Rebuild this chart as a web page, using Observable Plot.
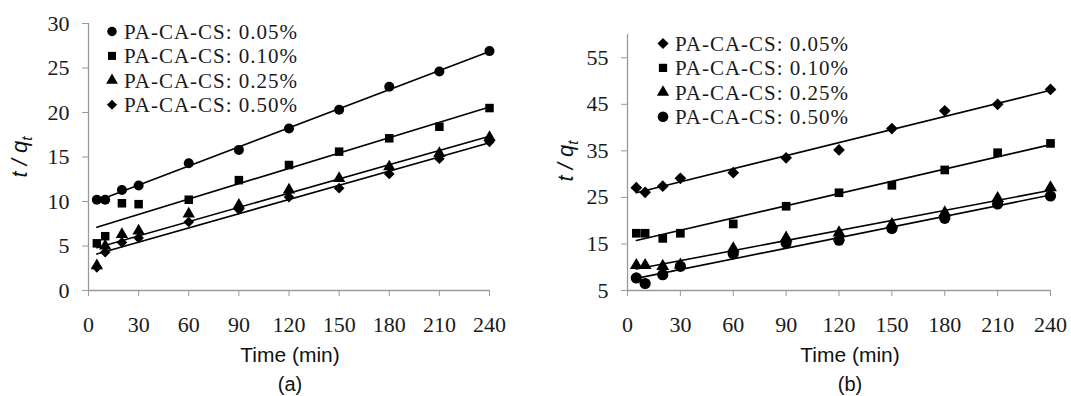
<!DOCTYPE html>
<html>
<head>
<meta charset="utf-8">
<script src="https://cdn.jsdelivr.net/npm/d3@7"></script>
<script src="https://cdn.jsdelivr.net/npm/@observablehq/plot@0.6"></script>
<style>
  html, body { margin: 0; padding: 0; background: #fff; }
  #wrap { position: relative; width: 1071px; height: 396px; overflow: hidden; }
  #pa, #pb { position: absolute; top: 0; }
  #pa { left: 0; }
  #pb { left: 540px; }
  svg text.tick { font-family: 'Liberation Serif', 'Times New Roman', serif !important; font-size: 22px !important; }
</style>
</head>
<body>
<div id="wrap"><div id="pa"></div><div id="pb"></div></div>
<script>
// ---- data ----
const times = [5, 10, 20, 30, 60, 90, 120, 150, 180, 210, 240];
const seriesNames = ["PA-CA-CS: 0.05%", "PA-CA-CS: 0.10%", "PA-CA-CS: 0.25%", "PA-CA-CS: 0.50%"];
const xTicks = [0, 30, 60, 90, 120, 150, 180, 210, 240];
const yTicksA = [0, 5, 10, 15, 20, 25, 30];
const yTicksB = [5, 15, 25, 35, 45, 55];
// panel (a)
const a005 = [10.2, 10.2, 11.3, 11.8, 14.3, 15.8, 18.2, 20.3, 22.9, 24.6, 26.9];
const a010 = [5.3, 6.1, 9.8, 9.7, 10.2, 12.4, 14.1, 15.6, 17.1, 18.4, 20.5];
const a025 = [2.8, 5.0, 6.3, 6.7, 8.6, 9.6, 11.3, 12.6, 13.9, 15.4, 17.2];
const a050 = [2.6, 4.3, 5.4, 5.9, 7.7, 9.1, 10.5, 11.5, 13.1, 14.8, 16.7];
// panel (b)
const b005 = [27.1, 26.1, 27.4, 29.1, 30.3, 33.5, 35.2, 39.8, 43.6, 45.0, 48.2];
const b010 = [17.3, 17.3, 16.2, 17.3, 19.3, 23.1, 26.0, 27.6, 30.9, 34.6, 36.6];
const b025 = [10.4, 10.4, 10.2, 10.5, 14.0, 16.3, 17.4, 19.2, 21.7, 24.8, 27.1];
const b050 = [7.7, 6.5, 8.4, 10.2, 12.9, 15.2, 15.8, 18.3, 20.5, 23.6, 25.3];

const symbolsA = ["circle", "square", "triangle", "diamond2"];
const symbolsB = ["diamond2", "square", "triangle", "circle"];

function rowsOf(seriesArrays) {
  const rows = [];
  seriesArrays.forEach((vals, i) => vals.forEach((v, j) => rows.push({t: times[j], v, s: seriesNames[i]})));
  return rows;
}

const serif = "'Liberation Serif', 'Times New Roman', serif";
const sans = "'Liberation Sans', Arial, sans-serif";
const d3Sym = {circle: d3.symbolCircle, square: d3.symbolSquare, triangle: d3.symbolTriangle, diamond2: d3.symbolDiamond2};

function panel(cfg) {
  const rows = rowsOf(cfg.series);
  const symR = cfg.symR;
  const axisStroke = "#9a9a9a";
  const marks = [
    Plot.ruleX([0], {stroke: axisStroke, strokeWidth: 1.3}),
    Plot.ruleY([cfg.yDomain[0]], {stroke: axisStroke, strokeWidth: 1.3}),
    Plot.axisX({ticks: xTicks, tickSize: 6, tickPadding: 20, stroke: axisStroke, fill: "#1a1a1a", label: null}),
    Plot.axisY({ticks: cfg.yTicks, tickSize: 6, tickPadding: 13, stroke: axisStroke, fill: "#1a1a1a", label: null}),
    Plot.linearRegressionY(rows, {x: "t", y: "v", z: "s", ci: 0, stroke: "black", strokeWidth: 1.6})
  ];
  seriesNames.forEach((name, i) => {
    const sym = cfg.symbols[i];
    marks.push(Plot.dot(rows, {filter: d => d.s === name, x: "t", y: "v", symbol: sym, r: symR[sym], fill: "black", stroke: "none"}));
  });
  const svg = Plot.plot({
    width: cfg.width, height: 396,
    marginLeft: cfg.marginLeft, marginRight: cfg.marginRight, marginTop: cfg.marginTop, marginBottom: 106,
    x: {domain: [0, 240]},
    y: {domain: cfg.yDomain},
    style: {background: "transparent", color: "#1a1a1a"},
    marks
  });
  d3.select(svg).selectAll("text").classed("tick", true)
    .attr("font-family", serif).attr("font-size", 22)
    .style("font-family", serif).style("font-size", "22px");
  const g = d3.select(svg).append("g").attr("text-anchor", "start");
  // legend
  seriesNames.forEach((name, i) => {
    const cy = cfg.legendY + i * 24.4;
    const sym = cfg.symbols[i];
    const area = Math.PI * Math.pow(symR[sym] * 0.95, 2);
    g.append("path").attr("d", d3.symbol(d3Sym[sym], area)()).attr("transform", `translate(${cfg.legendX},${cy})`).attr("fill", "black");
    g.append("text").attr("x", cfg.legendX + 12).attr("y", cy + 7.5).attr("text-anchor", "start")
      .style("font-family", serif).style("font-size", "21px").attr("letter-spacing", 1)
      .attr("fill", "#1a1a1a").text(name);
  });
  // y label
  const yl = g.append("text").attr("transform", `translate(${cfg.yLabelX},${cfg.yLabelY}) rotate(-90)`)
    .attr("text-anchor", "middle").style("font-family", sans)
    .attr("font-style", "italic").style("font-size", "22px").attr("fill", "#111");
  yl.append("tspan").text("t / q");
  yl.append("tspan").attr("dy", 5).style("font-size", "15px").text("t");
  // x label and panel letter
  g.append("text").attr("x", cfg.xLabelX).attr("y", 362).attr("text-anchor", "middle")
    .style("font-family", sans).style("font-size", "21px").attr("fill", "#111").text("Time (min)");
  g.append("text").attr("x", cfg.xLabelX).attr("y", 391).attr("text-anchor", "middle")
    .style("font-family", sans).style("font-size", "20px").attr("fill", "#111").text(cfg.letter);
  return svg;
}

document.getElementById("pa").appendChild(panel({
  series: [a005, a010, a025, a050], symbols: symbolsA,
  symR: {circle: 5.0, square: 4.8, triangle: 4.6, diamond2: 4.8},
  width: 520, marginLeft: 88, marginRight: 31, marginTop: 23,
  yDomain: [0, 30], yTicks: yTicksA,
  legendX: 112, legendY: 31.5, yLabelX: 27, yLabelY: 157,
  xLabelX: 290, letter: "(a)"
}));
document.getElementById("pb").appendChild(panel({
  series: [b005, b010, b025, b050], symbols: symbolsB,
  symR: {circle: 5.6, square: 4.9, triangle: 4.8, diamond2: 5.3},
  width: 531, marginLeft: 87, marginRight: 21, marginTop: 34,
  yDomain: [5, 60], yTicks: yTicksB,
  legendX: 123, legendY: 43.5, yLabelX: 33, yLabelY: 161,
  xLabelX: 310, letter: "(b)"
}));
</script>
</body>
</html>
